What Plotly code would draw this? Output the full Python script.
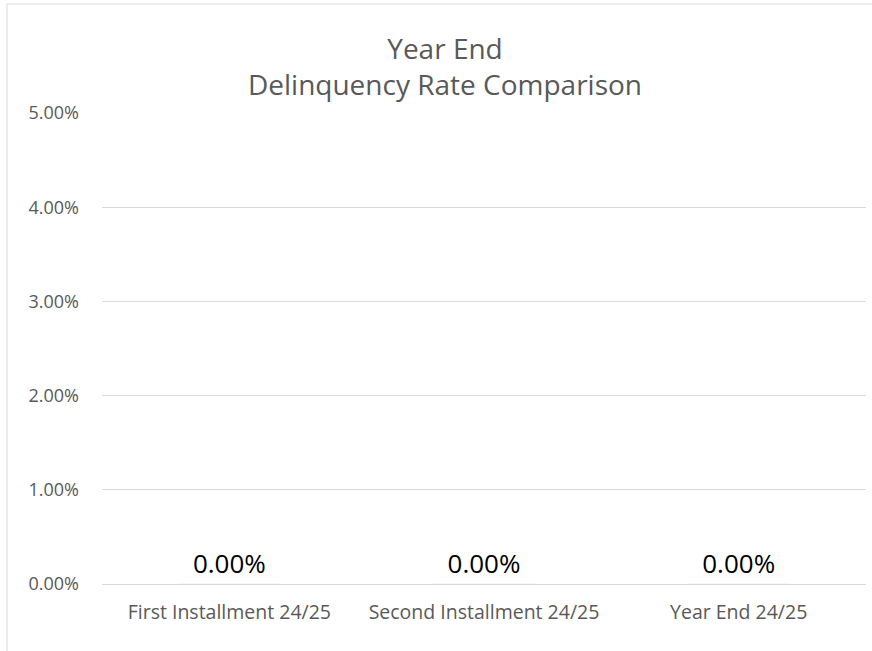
import plotly.graph_objects as go

categories = ["First Installment 24/25", "Second Installment 24/25", "Year End 24/25"]
rates = [0.0, 0.0, 0.0]
y_ticks = [0.0, 0.01, 0.02, 0.03, 0.04, 0.05]
y_tick_labels = ["0.00%", "1.00%", "2.00%", "3.00%", "4.00%", "5.00%"]

W, H = 872, 651
L, R, T, B = 102, 6, 113, 67
pw, ph = W - L - R, H - T - B
FONT = "Open Sans"

fig = go.Figure()
fig.add_trace(go.Bar(
    x=categories, y=rates,
    marker_color="#4472C4",
    texttemplate="%{y:.2%}",
    textposition="outside",
    textfont=dict(size=26, color="#000000", family=FONT),
    cliponaxis=False,
    hoverinfo="skip",
))

gx = (7 - L) / pw
gy = (H - B - 4) / ph
fig.add_shape(type="line", xref="paper", yref="paper", x0=gx, x1=gx, y0=-0.3, y1=gy,
              line=dict(color="#d9d9d9", width=1))
fig.add_shape(type="line", xref="paper", yref="paper", x0=gx, x1=1.3, y0=gy, y1=gy,
              line=dict(color="#d9d9d9", width=1))

fig.update_layout(
    width=W, height=H,
    margin=dict(l=L, r=R, t=T, b=B),
    paper_bgcolor="white", plot_bgcolor="white",
    font=dict(family=FONT, color="#595959"),
    showlegend=False,
    title=dict(text="Year End<br>Delinquency Rate Comparison",
               x=445 / W, xanchor="center", y=1 - 59 / H, yanchor="middle",
               font=dict(size=28, color="#595959", family=FONT)),
    bargap=0.6,
)
fig.update_yaxes(range=[0, 0.05], tickvals=y_ticks, ticktext=y_tick_labels,
                 showgrid=True, gridcolor="#d9d9d9", gridwidth=1,
                 zeroline=False, showline=False,
                 tickfont=dict(size=18, color="#595959"),
                 ticklabelstandoff=22)
fig.update_xaxes(showline=True, linecolor="#d9d9d9", linewidth=1,
                 showgrid=False,
                 tickfont=dict(size=19.5, color="#595959"),
                 ticklabelstandoff=11)

fig.write_html("out.html", config={"displayModeBar": False},
               post_script="document.body.style.margin='0';")
